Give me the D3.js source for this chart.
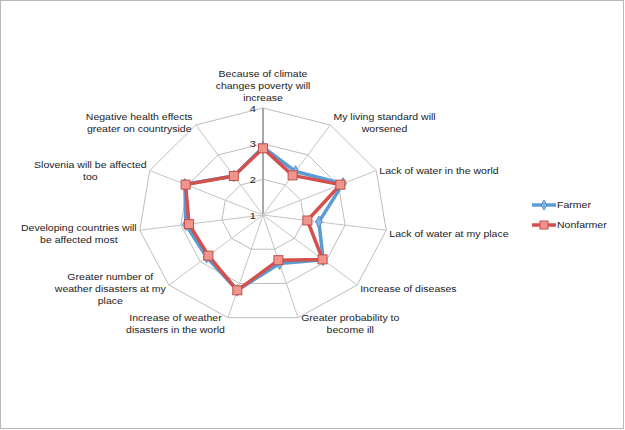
<!DOCTYPE html>
<html><head><meta charset="utf-8">
<script src="https://cdn.jsdelivr.net/npm/d3@7"></script>
<style>
html,body{margin:0;padding:0;background:#fff;}
svg{display:block;}
text{font-family:"Liberation Sans",Arial,sans-serif;fill:#222;}
</style></head>
<body><svg id="c" width="625" height="430"></svg>
<script>
const categories = [
  ["Because of climate","changes poverty will","increase"],
  ["My living standard will","worsened"],
  ["Lack of water  in the world"],
  ["Lack of water at my place"],
  ["Increase of diseases"],
  ["Greater probability to","become ill"],
  ["Increase of weather","disasters in the world"],
  ["Greater number of","weather disasters at my","place"],
  ["Developing countries will","be affected most"],
  ["Slovenia will be affected","too"],
  ["Negative health effects","greater on countryside"]
];
const farmer    = [2.9, 2.45, 3.12, 2.36, 2.92, 2.42, 3.2, 2.8, 2.88, 3.07, 2.3];
const nonfarmer = [2.87, 2.32, 3.05, 2.08, 2.9, 2.32, 3.2, 2.74, 2.8, 3.05, 2.3];
const ticks = [1, 2, 3, 4];
const seriesNames = ["Farmer", "Nonfarmer"];

const svg = d3.select("#c");
const W = 625, H = 430;
const SX = 1.17; // horizontal stretch of the original picture
svg.append("rect").attr("x",0.5).attr("y",0.5).attr("width",W-2).attr("height",H-2)
  .attr("fill","#fff").attr("stroke","#b8b8b8");

const cx = 263, cy = 215, Ry = 107, Rx = 124.5;
const r = d3.scaleLinear().domain([1,4]).range([0,1]);
const n = categories.length;
const ang = d3.scaleLinear().domain([0,n]).range([0,2*Math.PI]);
const px = (i,v) => cx + Rx*r(v)*Math.sin(ang(i));
const py = (i,v) => cy - Ry*r(v)*Math.cos(ang(i));
const idx = d3.range(n);

const g = svg.append("g");
// rings
ticks.slice(1).forEach(t=>{
  g.append("path")
    .attr("d", d3.line()(idx.map(i=>[px(i,t),py(i,t)])) + "Z")
    .attr("fill","none").attr("stroke","#bdbdbd").attr("stroke-width",1);
});
// spokes
idx.forEach(i=>{
  g.append("line").attr("x1",cx).attr("y1",cy).attr("x2",px(i,4)).attr("y2",py(i,4))
    .attr("stroke", i===0 ? "#a8a8a8" : "#c4c4c4").attr("stroke-width", i===0 ? 2 : 1);
});
// stretched text helper
function stext(parent, x, y, anchor, size, str) {
  return parent.append("g").attr("transform",`translate(${x},${y}) scale(${SX},1)`)
    .append("text").attr("text-anchor",anchor).attr("font-size",size).text(str);
}
// tick labels
ticks.forEach(t=>{
  stext(g, cx-7, py(0,t)+3.5, "end", 9.5, t);
});

// series
const colors = ["#5b9bd5","#d4504c"];
const lineGen = d3.line().x(d=>px(d[0],d[1])).y(d=>py(d[0],d[1])).curve(d3.curveLinearClosed);
[farmer, nonfarmer].forEach((data,s)=>{
  const pts = data.map((v,i)=>[i,v]);
  g.append("path").attr("d", lineGen(pts)).attr("fill","none")
    .attr("stroke",colors[s]).attr("stroke-width",3.5).attr("stroke-linejoin","round");
  if (s===0) {
    g.selectAll(null).data(pts).enter().append("path")
      .attr("d", d3.symbol(d3.symbolDiamond, 40)())
      .attr("transform", d=>`translate(${px(d[0],d[1])},${py(d[0],d[1])})`)
      .attr("fill","#7fb3e3").attr("stroke","#4a86c8").attr("stroke-width",0.8);
  } else {
    g.selectAll(null).data(pts).enter().append("rect")
      .attr("x", d=>px(d[0],d[1])-4.5).attr("y", d=>py(d[0],d[1])-4.5)
      .attr("width",9).attr("height",9)
      .attr("fill","#f1948c").attr("stroke","#c0504d").attr("stroke-width",1);
  }
});

// category labels
const LH = 12;
categories.forEach((lines,i)=>{
  const vx = px(i,4), vy = py(i,4);
  const s = Math.sin(ang(i)), c = Math.cos(ang(i));
  const gg = g.append("g");
  const t = gg.append("text").attr("font-size",9).attr("text-anchor","middle");
  const tsp = lines.map(l=>t.append("tspan").text(l));
  const widths = tsp.map(ts=>ts.node().getComputedTextLength());
  const bw = d3.max(widths)*SX, bh = lines.length*LH;
  let left, top;
  if (Math.abs(s) < 0.01) { left = vx - bw/2; top = vy - 4 - bh; }
  else {
    left = s > 0 ? vx + 3 : vx - 3 - bw;
    if (c < -0.9) top = vy - 6;
    else {
      const yc = vy + (c > 0.6 ? -2 : c > 0 ? 0 : 4);
      top = yc - bh/2;
    }
  }
  gg.attr("transform",`translate(${left + bw/2},${top}) scale(${SX},1)`);
  tsp.forEach((ts,k)=>{
    ts.attr("x", 0).attr("y", LH*k + LH/2 + 3.2);
  });
});

// legend
const lg = svg.append("g");
seriesNames.forEach((nm,s)=>{
  const y = 205 + s*20;
  lg.append("line").attr("x1",532).attr("x2",556).attr("y1",y).attr("y2",y)
    .attr("stroke",colors[s]).attr("stroke-width",3.5);
  if (s===0) {
    lg.append("path").attr("d", d3.symbol(d3.symbolDiamond, 30)())
      .attr("transform",`translate(544,${y})`).attr("fill","#7fb3e3").attr("stroke","#4a86c8").attr("stroke-width",0.8);
  } else {
    lg.append("rect").attr("x",540).attr("y",y-4).attr("width",8).attr("height",8)
      .attr("fill","#f1948c").attr("stroke","#c0504d");
  }
  stext(lg, 557, y+3, "start", 9, nm);
});
</script></body></html>
